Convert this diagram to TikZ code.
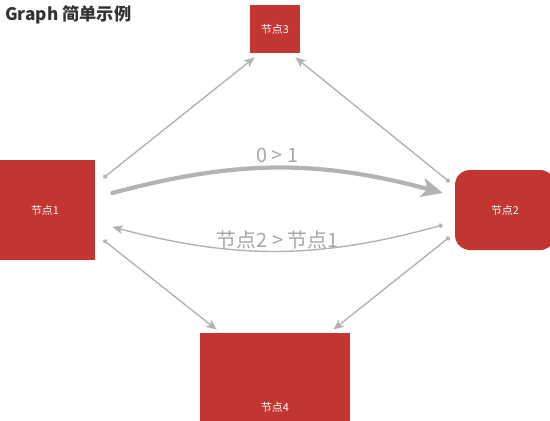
\documentclass[tikz,border=0pt]{standalone}
\usepackage{fontspec}
\setmainfont{Noto Sans CJK SC}
\usetikzlibrary{arrows.meta, positioning, calc}
\definecolor{nodered}{HTML}{C33531}
\definecolor{linkgray}{HTML}{B3B3B3}
\definecolor{labelgray}{HTML}{A6A6A6}
\definecolor{titlegray}{HTML}{333333}
\tikzset{
  nodebox/.style={rectangle, fill=nodered, text=white, inner sep=0pt,
                  font=\fontsize{6.2}{7}\selectfont},
  roundbox/.style={nodebox, rounded corners=0.3cm},
  link/.style={draw=linkgray, line width=0.8pt,
               {Circle[length=2.6pt]}-{Stealth[length=6pt, width=5pt, inset=1.5pt]}},
  mainlink/.style={draw=linkgray, line width=2.4pt, line cap=round,
               -{Stealth[length=12pt, width=11pt, inset=3pt]}},
  linklabel/.style={text=labelgray, font=\fontsize{11.3}{13}\selectfont},
}
\begin{document}
\begin{tikzpicture}
    \useasboundingbox (0,0) rectangle (11,-8.4);
    % Title
    \node[anchor=west, inner sep=0pt, text=titlegray, font=\fontsize{9.8}{11}\selectfont\bfseries]
      (title) at (0.1,-0.3) {Graph 简单示例};
    % All nodes
    \node[nodebox, minimum width=2cm, minimum height=2cm]     (n1) at (0.9,-4.2)  {节点1};
    \node[roundbox, minimum width=2cm, minimum height=1.6cm]  (n2) at (10.1,-4.2) {节点2};
    \node[nodebox, minimum width=1cm, minimum height=0.96cm]  (n3) at (5.5,-0.58) {节点3};
    \node[nodebox, minimum width=3cm, minimum height=2.96cm]  (n4) at (5.5,-8.14) {节点4};
    % Straight links
    \draw[link] ([shift={(0.16,0.64)}]n1.east)   -- ([shift={(0.1,-0.08)}]n3.south west);
    \draw[link] ([shift={(-0.1,0.56)}]n2.west)   -- ([shift={(-0.1,-0.08)}]n3.south east);
    \draw[link] ([shift={(0.16,-0.6)}]n1.east)   -- ([shift={(0.34,0.06)}]n4.north west);
    \draw[link] ([shift={(-0.1,-0.54)}]n2.west)  -- ([shift={(-0.34,0.06)}]n4.north east);
    % Curved links
    \draw[mainlink] ([shift={(0.34,0.34)}]n1.east) to[bend left=15]
      node[linklabel, above, inner sep=2pt] (l01) {0 > 1}
      ([shift={(-0.24,0.34)}]n2.west);
    \draw[link] ([shift={(-0.24,-0.3)}]n2.west) to[bend left=15]
      node[linklabel, above, inner sep=0.5pt] (l21) {节点2 > 节点1}
      ([shift={(0.34,-0.34)}]n1.east);
\end{tikzpicture}
\end{document}
